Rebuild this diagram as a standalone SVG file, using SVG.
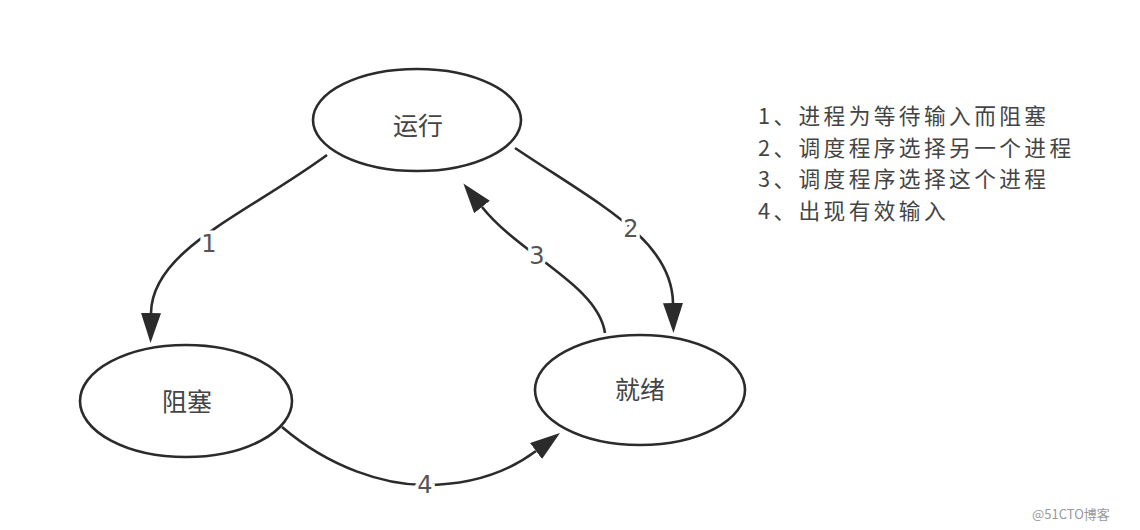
<svg xmlns="http://www.w3.org/2000/svg" width="1140" height="530" viewBox="0 0 1140 530">
<defs>
<style>
.node ellipse{fill:#fff;stroke:#2b2b2b;stroke-width:2.6}
.node text{font-family:"Noto Sans CJK SC","Noto Sans",sans-serif;font-size:25px;fill:#444;text-anchor:middle}
.edge{fill:none;stroke:#2b2b2b;stroke-width:2.6;marker-end:url(#arr)}
.elabel{font-family:"DejaVu Sans",sans-serif;font-size:24px;fill:#555;text-anchor:middle;stroke:#fff;stroke-width:7;paint-order:stroke}
.legend{font-family:"Noto Sans CJK SC","Noto Sans",sans-serif;font-size:21.7px;letter-spacing:3.4px;fill:#444}
.wm{font-family:"Noto Sans CJK SC","Liberation Sans",sans-serif;font-size:13px;fill:#999}
</style>
<marker id="arr" markerUnits="userSpaceOnUse" markerWidth="30" markerHeight="20" viewBox="0 0 30 20" refX="0" refY="10" orient="auto">
<path d="M0,0 L30,10 L0,20 z" fill="#2b2b2b"/>
</marker>
</defs>
<rect width="1140" height="530" fill="#fff"/>
<g id="connectors">
<path class="edge" d="M327,155 C245,215 152,250 151,313"/>
<path class="edge" d="M515,148 C600,205 672,240 673,303"/>
<path class="edge" d="M605,333 C598,285 520,255 482,207"/>
<path class="edge" d="M282,427 C330,468 385,485 425,485 C470,485 508,472 536,451"/>
<text class="elabel" x="209" y="252">1</text>
<text class="elabel" x="631" y="237">2</text>
<text class="elabel" x="537" y="264">3</text>
<text class="elabel" x="425" y="493">4</text>
</g>
<g id="node-running" class="node">
<ellipse cx="417" cy="120" rx="104" ry="51"/>
<text x="418" y="135">运行</text>
</g>
<g id="node-blocked" class="node">
<ellipse cx="186" cy="401" rx="106" ry="56"/>
<text x="187" y="411">阻塞</text>
</g>
<g id="node-ready" class="node">
<ellipse cx="640" cy="390" rx="105" ry="55"/>
<text x="640" y="399">就绪</text>
</g>
<g id="legend">
<text class="legend" x="758" y="124">1、进程为等待输入而阻塞</text>
<text class="legend" x="758" y="155.5">2、调度程序选择另一个进程</text>
<text class="legend" x="758" y="187">3、调度程序选择这个进程</text>
<text class="legend" x="758" y="218.5">4、出现有效输入</text>
</g>
<text class="wm" x="1032" y="519">@51CTO博客</text>
</svg>
